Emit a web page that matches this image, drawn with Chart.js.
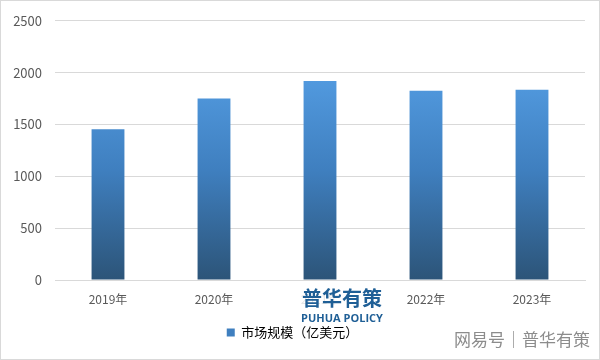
<!DOCTYPE html>
<html>
<head>
<meta charset="utf-8">
<script src="https://cdn.jsdelivr.net/npm/chart.js@4"></script>
<style>
  html, body { margin: 0; padding: 0; background: #fff; }
  #wrap { width: 600px; height: 360px; position: relative; }
</style>
</head>
<body>
<div id="wrap"><canvas id="chart" width="600" height="360"></canvas></div>
<script>
  const years = ['2019年', '2020年', '2021年', '2022年', '2023年'];
  const marketSize = [1455, 1750, 1920, 1825, 1835];
  const seriesName = '市场规模（亿美元）';
  const yTicks = [0, 500, 1000, 1500, 2000, 2500];

  const FONT = '"Noto Sans CJK SC", "Noto Sans", sans-serif';

  function barGradient(ctx) {
    const area = ctx.chart.chartArea;
    if (!area) return '#4a8ccf';
    const g = ctx.chart.ctx.createLinearGradient(0, area.bottom, 0, area.top + 60);
    g.addColorStop(0, '#2c5478');
    g.addColorStop(0.55, '#3f7fbf');
    g.addColorStop(1, '#5199de');
    return g;
  }

  // watermark text and the thin frame round the picture
  const overlay = {
    id: 'overlay',
    afterDraw(chart) {
      const c = chart.ctx;
      c.save();
      c.strokeStyle = '#d9d9d9';
      c.lineWidth = 1;
      c.strokeRect(0.5, 0.5, 599, 359);

      c.textAlign = 'center';
      c.textBaseline = 'middle';
      c.fillStyle = 'rgba(255,255,255,0.85)';
      c.fillRect(298, 287, 90, 39);
      c.fillStyle = '#1f5f96';
      c.font = 'bold 20px ' + FONT;
      c.fillText('普华有策', 342, 298);
      c.font = 'bold 11px "Open Sans", sans-serif';
      c.fillText('PUHUA POLICY', 342, 319);

      c.fillStyle = '#8c8c8c';
      c.font = '17px ' + FONT;
      c.textAlign = 'right';
      c.fillText('网易号｜普华有策', 590, 340);
      c.restore();
    }
  };

  new Chart(document.getElementById('chart'), {
    type: 'bar',
    data: {
      labels: years,
      datasets: [{
        label: seriesName,
        data: marketSize,
        backgroundColor: barGradient,
        borderWidth: 0,
        categoryPercentage: 1,
        barPercentage: 0.31,
      }],
    },
    options: {
      responsive: false,
      animation: false,
      layout: { padding: { left: 0, right: 15, top: 14, bottom: 11 } },
      plugins: {
        tooltip: { enabled: false },
        legend: {
          position: 'bottom',
          labels: {
            boxWidth: 8,
            boxHeight: 8,
            color: '#595959',
            font: { family: FONT, size: 13 },
            padding: 4,
            generateLabels(chart) {
              return [{
                text: seriesName,
                fillStyle: '#3f7fbf',
                strokeStyle: '#3f7fbf',
                lineWidth: 0,
                datasetIndex: 0,
              }];
            },
          },
        },
      },
      scales: {
        x: {
          grid: { display: false },
          border: { color: '#d9d9d9' },
          ticks: { color: '#595959', font: { family: FONT, size: 12 }, padding: 4 },
          afterFit(axis) { axis.height = 42; },
        },
        y: {
          min: 0,
          max: 2500,
          afterBuildTicks(axis) { axis.ticks = yTicks.map(v => ({ value: v })); },
          grid: { color: '#d9d9d9', drawTicks: false },
          border: { display: false },
          ticks: {
            color: '#595959',
            font: { family: FONT, size: 13 },
            padding: 13,
            callback: v => String(v),
          },
          afterFit(axis) { axis.width = 55; },
        },
      },
    },
    plugins: [overlay],
  });
</script>
</body>
</html>
